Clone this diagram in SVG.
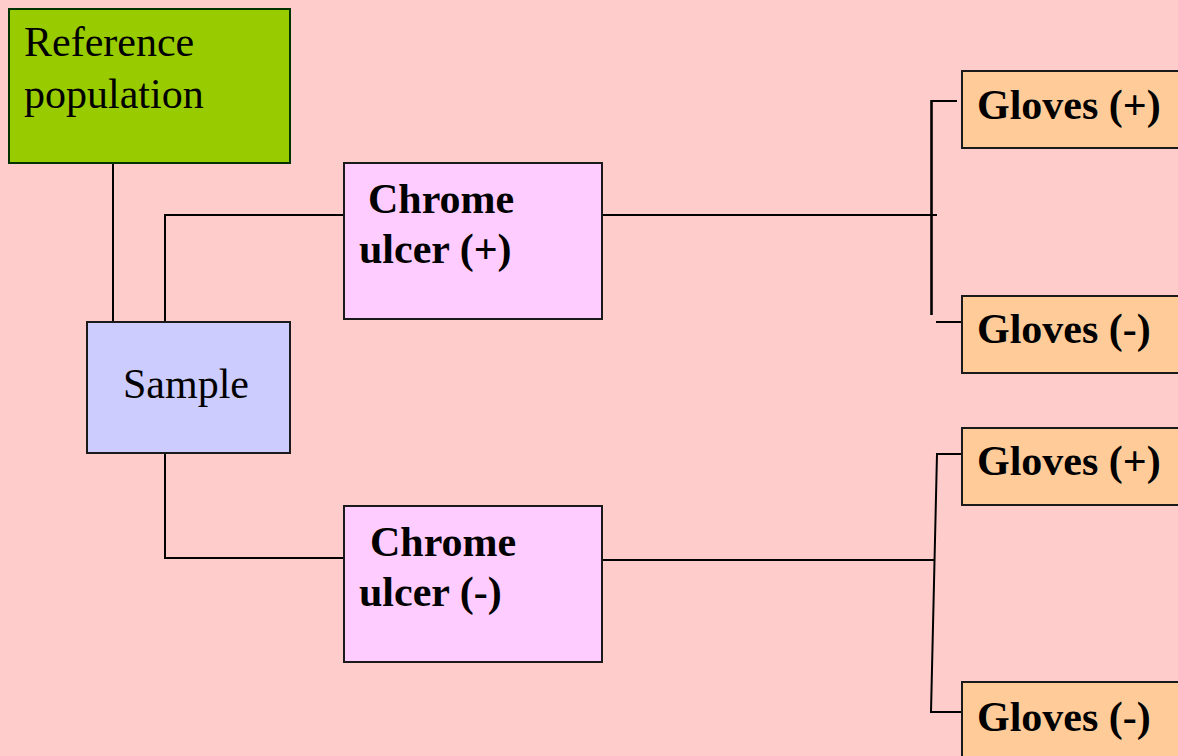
<svg xmlns="http://www.w3.org/2000/svg" width="1178" height="756" viewBox="0 0 1178 756">
<style>
.box{stroke:#1a1a1a;stroke-width:2}
.ref{fill:#99CC00;stroke:#003300}
.smp{fill:#CCCCFF}
.chr{fill:#FFCCFF}
.glv{fill:#FFCC99}
.t{font-family:"Liberation Serif","Times New Roman",serif;font-size:42px;fill:#000}
.b{font-weight:bold}
.c{fill:none;stroke:#000;stroke-width:2}
</style>
<rect width="1178" height="756" fill="#FFCCCC"/>
<g id="connectors">
<path class="c" d="M113 163V322"/>
<path class="c" d="M165 322V215H344"/>
<path class="c" d="M165 453V558H344"/>
<path class="c" d="M602 215H937"/>
<path class="c" d="M931.5 100V315" style="stroke-width:2.6"/>
<path class="c" d="M931 101H957"/>
<path class="c" d="M936 322H962"/>
<path class="c" d="M602 560H935"/>
<path class="c" d="M962 454H937L931 712H962"/>
</g>
<g id="reference">
<rect class="box ref" x="9" y="9" width="281" height="154"/>
<text class="t" x="24" y="56">Reference</text>
<text class="t" x="24" y="108">population</text>
</g>
<g id="sample">
<rect class="box smp" x="87" y="322" width="203" height="131"/>
<text class="t" x="123" y="398">Sample</text>
</g>
<g id="chrome-pos">
<rect class="box chr" x="344" y="163" width="258" height="156"/>
<text class="t b" x="368" y="213">Chrome</text>
<text class="t b" x="359" y="263">ulcer (+)</text>
</g>
<g id="chrome-neg">
<rect class="box chr" x="344" y="506" width="258" height="156"/>
<text class="t b" x="370" y="556">Chrome</text>
<text class="t b" x="359" y="606">ulcer (-)</text>
</g>
<g id="gloves-pos-1">
<rect class="box glv" x="962" y="71" width="230" height="77"/>
<text class="t b" x="977" y="119">Gloves (+)</text>
</g>
<g id="gloves-neg-1">
<rect class="box glv" x="962" y="296" width="230" height="77"/>
<text class="t b" x="977" y="343">Gloves (-)</text>
</g>
<g id="gloves-pos-2">
<rect class="box glv" x="962" y="428" width="230" height="77"/>
<text class="t b" x="977" y="475">Gloves (+)</text>
</g>
<g id="gloves-neg-2">
<rect class="box glv" x="962" y="682" width="230" height="90"/>
<text class="t b" x="977" y="731">Gloves (-)</text>
</g>
</svg>
